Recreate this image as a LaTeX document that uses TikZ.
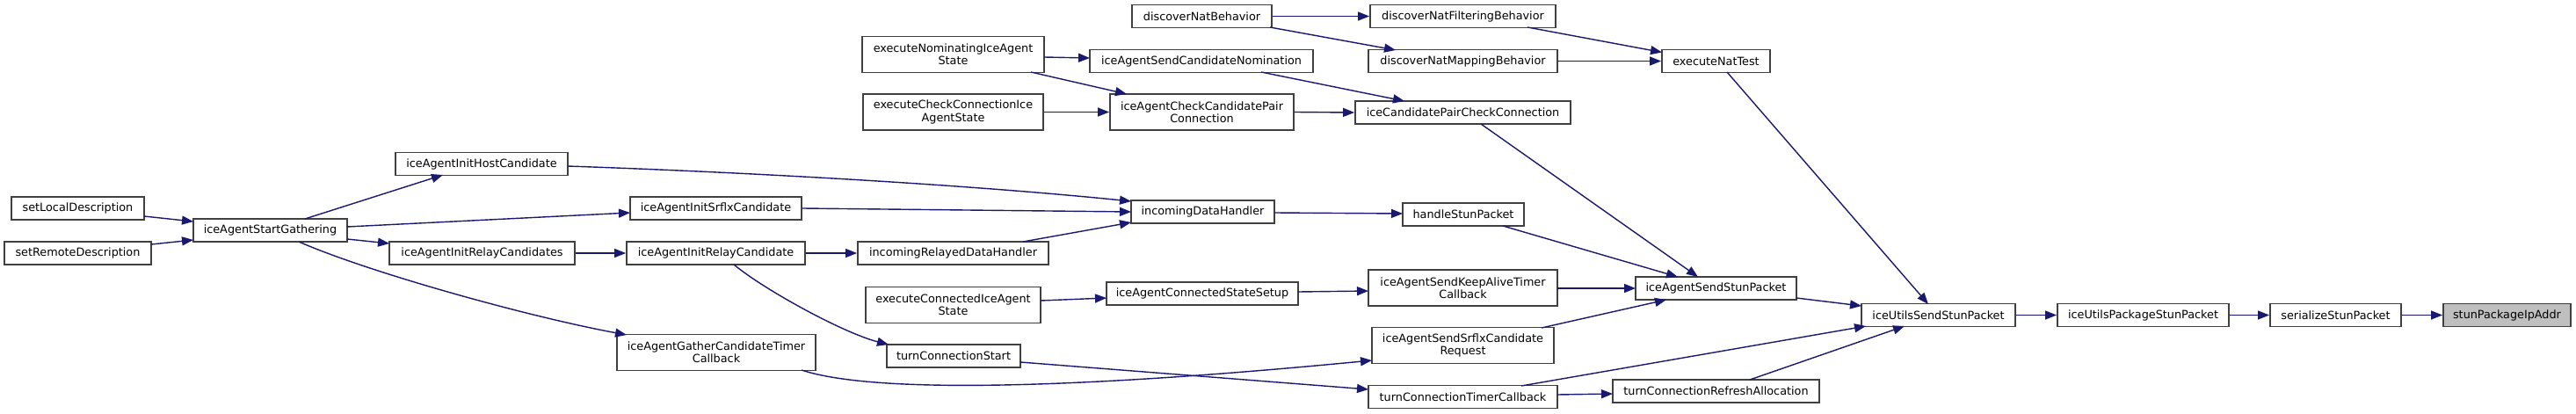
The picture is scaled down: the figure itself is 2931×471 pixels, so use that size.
\documentclass[tikz,border=0pt]{standalone}
\usepackage{fontspec}
\setmainfont{DejaVu Sans}
\usetikzlibrary{arrows.meta}
\definecolor{edgec}{HTML}{191970}
\definecolor{boxc}{HTML}{404040}
\definecolor{hitc}{HTML}{BFBFBF}
\begin{document}
\begin{tikzpicture}[x=1pt,y=-1pt,
  fn/.style={draw=boxc, line width=1.8pt, fill=white, inner sep=0pt, align=center,
     minimum height=26pt, font=\fontsize{12.8}{14.4}\selectfont},
  fn2/.style={fn, minimum height=41pt},
  e/.style={draw=edgec, line width=1.4pt, -{Triangle[length=13pt,width=10pt]}}]
\fill[white] (0,0) rectangle (2931,471);
\useasboundingbox (0,0) rectangle (2931,471);

\node[fn, minimum width=151pt] (sL) at (88.5,237) {setLocalDescription};
\node[fn, minimum width=167pt] (sR) at (88.5,288) {setRemoteDescription};
\node[fn, minimum width=175pt] (sg) at (307.5,262) {iceAgentStartGathering};
\node[fn, minimum width=196pt] (ih) at (548,186.5) {iceAgentInitHostCandidate};
\node[fn, minimum width=195pt] (isx) at (814.5,237) {iceAgentInitSrflxCandidate};
\node[fn, minimum width=211pt] (irs) at (548.5,288) {iceAgentInitRelayCandidates};
\node[fn, minimum width=203pt] (irc) at (814.5,288) {iceAgentInitRelayCandidate};
\node[fn2, minimum width=226pt] (gcb) at (815,401) {iceAgentGatherCandidateTimer\\Callback};
\node[fn, minimum width=217pt] (ird) at (1084.5,288) {incomingRelayedDataHandler};
\node[fn2, minimum width=199pt] (ecs) at (1084.5,347) {executeConnectedIceAgent\\State};
\node[fn, minimum width=152pt] (tcs) at (1085,405) {turnConnectionStart};
\node[fn2, minimum width=207pt] (enm) at (1084.5,62) {executeNominatingIceAgent\\State};
\node[fn2, minimum width=205pt] (ecc) at (1084.5,127.5) {executeCheckConnectionIce\\AgentState};
\node[fn, minimum width=159pt] (dnb) at (1367.5,18.5) {discoverNatBehavior};
\node[fn, minimum width=254pt] (scn) at (1367,69.5) {iceAgentSendCandidateNomination};
\node[fn2, minimum width=209pt] (ccp) at (1367.5,127.5) {iceAgentCheckCandidatePair\\Connection};
\node[fn, minimum width=163pt] (idh) at (1368.5,241) {incomingDataHandler};
\node[fn, minimum width=218pt] (css) at (1368,334) {iceAgentConnectedStateSetup};
\node[fn, minimum width=211pt] (dnf) at (1664.5,18.5) {discoverNatFilteringBehavior};
\node[fn, minimum width=215pt] (dnm) at (1664.5,69.5) {discoverNatMappingBehavior};
\node[fn, minimum width=245pt] (pcc) at (1664.5,128) {iceCandidatePairCheckConnection};
\node[fn, minimum width=138pt] (hsp) at (1665,244) {handleStunPacket};
\node[fn2, minimum width=215pt] (ska) at (1664.5,327.5) {iceAgentSendKeepAliveTimer\\Callback};
\node[fn2, minimum width=207pt] (ssr) at (1664.5,393) {iceAgentSendSrflxCandidate\\Request};
\node[fn, minimum width=215pt] (tct) at (1664.5,451.5) {turnConnectionTimerCallback};
\node[fn, minimum width=123pt] (nat) at (1952.5,69.5) {executeNatTest};
\node[fn, minimum width=183pt] (ssp) at (1952.5,328) {iceAgentSendStunPacket};
\node[fn, minimum width=235pt] (tra) at (1952.5,445) {turnConnectionRefreshAllocation};
\node[fn, minimum width=175pt] (usp) at (2205.5,358.5) {iceUtilsSendStunPacket};
\node[fn, minimum width=195pt] (ups) at (2438.5,358.5) {iceUtilsPackageStunPacket};
\node[fn, minimum width=149pt] (ser) at (2657.5,358.5) {serializeStunPacket};
\node[fn, minimum width=145pt, fill=hitc] (ipa) at (2852.5,358.5) {stunPackageIpAddr};

\draw[e] ([shift={(75.5,9)}]sL.center) -- ([shift={(-87.5,-10)}]sg.center);
\draw[e] ([shift={(83.5,-10)}]sR.center) -- ([shift={(-87.5,11)}]sg.center);
\draw[e] ([shift={(39.5,-13)}]sg.center) -- ([shift={(-44,12.5)}]ih.center);
\draw[e] ([shift={(87.5,-4)}]sg.center) -- ([shift={(-97.5,5)}]isx.center);
\draw[e] ([shift={(87.5,10)}]sg.center) -- ([shift={(-105.5,-11)}]irs.center);
\draw[e] ([shift={(32.5,13)}]sg.center) .. controls +(80,35) and +(-113,-21) .. ([shift={(-102,-20)}]gcb.center);
\draw[e] (irs.east) -- (irc.west);
\draw[e] ([shift={(98,2.5)}]ih.center) .. controls +(204,7) and +(-187,-19) .. ([shift={(-81.5,-12)}]idh.center);
\draw[e] (isx.east) -- ([shift={(-81.5,0)}]idh.center);
\draw[e] (irc.east) -- (ird.west);
\draw[e] ([shift={(79.5,-13)}]ird.center) -- ([shift={(-81.5,12)}]idh.center);
\draw[e] ([shift={(20.5,13)}]irc.center) .. controls +(35,29) and +(-51,-13) .. ([shift={(-74,-13)}]tcs.center);
\draw[e] ([shift={(97,20)}]gcb.center) .. controls +(88,29) and +(-311,30) .. ([shift={(-103.5,17)}]ssr.center);
\draw[e] ([shift={(76,7)}]tcs.center) -- ([shift={(-107.5,-8.5)}]tct.center);
\draw[e] ([shift={(103.5,3)}]enm.center) -- ([shift={(-127,-3.5)}]scn.center);
\draw[e] ([shift={(88.5,20)}]enm.center) -- ([shift={(-85.5,-20.5)}]ccp.center);
\draw[e] (ecc.east) -- (ccp.west);
\draw[e] (dnb.east) -- (dnf.west);
\draw[e] ([shift={(77.5,12.5)}]dnb.center) -- ([shift={(-76.5,-12.5)}]dnm.center);
\draw[e] ([shift={(73.5,12.5)}]dnf.center) -- ([shift={(-61.5,-10)}]nat.center);
\draw[e] (dnm.east) -- (nat.west);
\draw[e] ([shift={(68,12.5)}]scn.center) -- ([shift={(-66.5,-13)}]pcc.center);
\draw[e] (ccp.east) -- (pcc.west);
\draw[e] ([shift={(81.5,1)}]idh.center) -- ([shift={(-69,-1)}]hsp.center);
\draw[e] ([shift={(109,-2)}]css.center) -- ([shift={(-107.5,3.5)}]ska.center);
\draw[e] ([shift={(99.5,-5)}]ecs.center) -- ([shift={(-109,5)}]css.center);
\draw[e] ([shift={(45,13)}]hsp.center) -- ([shift={(-43.5,-13)}]ssp.center);
\draw[e] ([shift={(20.5,13)}]pcc.center) -- ([shift={(-20.5,-13)}]ssp.center);
\draw[e] ([shift={(107.5,0.5)}]ska.center) -- ([shift={(-91.5,0)}]ssp.center);
\draw[e] ([shift={(89.5,-20)}]ssr.center) -- ([shift={(-56.5,13)}]ssp.center);
\draw[e] ([shift={(12.5,12.5)}]nat.center) -- ([shift={(-11.5,-12.5)}]usp.center);
\draw[e] ([shift={(91.5,11)}]ssp.center) -- ([shift={(-87.5,-10.5)}]usp.center);
\draw[e] ([shift={(66.5,-12.5)}]tct.center) -- ([shift={(-82.5,12.5)}]usp.center);
\draw[e] ([shift={(107.5,-2.5)}]tct.center) -- ([shift={(-117.5,3)}]tra.center);
\draw[e] ([shift={(38.5,-13)}]tra.center) -- ([shift={(-38.5,12.5)}]usp.center);
\draw[e] (usp.east) -- (ups.west);
\draw[e] (ups.east) -- (ser.west);
\draw[e] (ser.east) -- (ipa.west);
\end{tikzpicture}
\end{document}
